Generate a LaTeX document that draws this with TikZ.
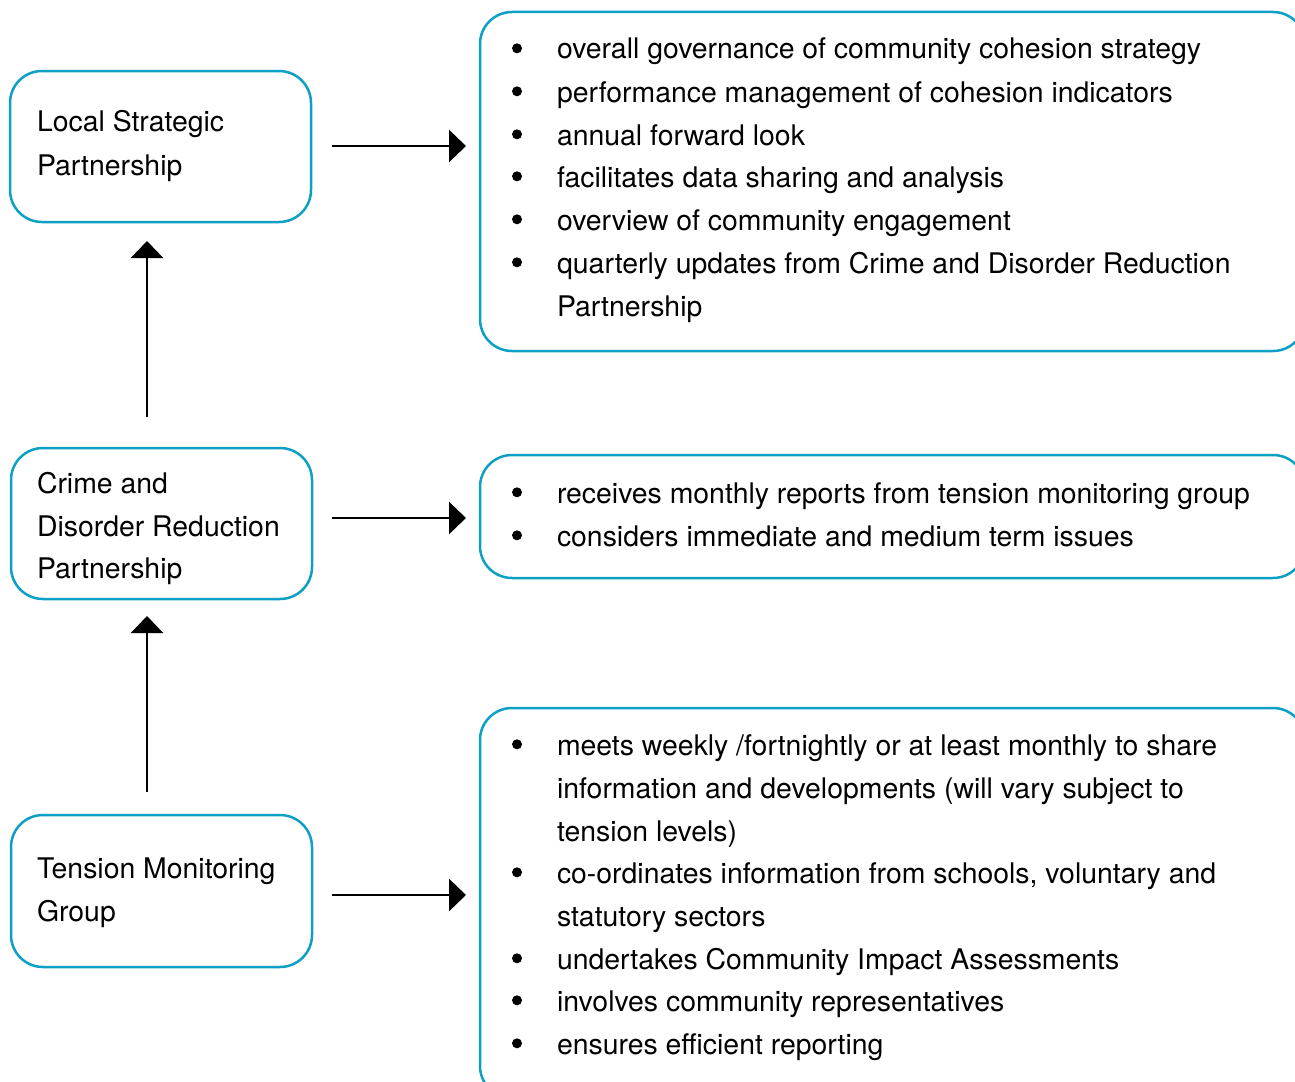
\documentclass[tikz,border=0pt]{standalone}
\usepackage{fontspec}
\setmainfont{TeX Gyre Heros}
\usetikzlibrary{arrows.meta}
\definecolor{boxc}{RGB}{14,160,196}
\begin{document}
\begin{tikzpicture}[x=1pt,y=-1pt,
  every node/.style={inner sep=0pt, outer sep=0pt, font=\fontsize{28.4}{43}\selectfont},
  bx/.style={draw=boxc, line width=2.5pt, rounded corners=32pt, anchor=north west},
  arr/.style={line width=2.8pt, -{Triangle[length=17pt,width=32pt]}},
  txt/.style={anchor=base west},
  bul/.style={circle, fill=black, minimum size=10pt}]
\clip (0,0) rectangle (1295,1081);
\fill[white] (0,0) rectangle (1295,1081);
% left boxes
\node[bx, minimum width=301pt, minimum height=151pt] (lsp) at (10,71) {};
\node[bx, minimum width=301pt, minimum height=151pt] (cdrp) at (11,448) {};
\node[bx, minimum width=301pt, minimum height=152pt] (tmg) at (11,815) {};
\node[txt] (lsp1) at (37,131.5) {Local Strategic};
\node[txt] (lsp2) at (37,175) {Partnership};
\node[txt] (cdrp1) at (37,493) {Crime and};
\node[txt] (cdrp2) at (37,536) {Disorder Reduction};
\node[txt] (cdrp3) at (37,578) {Partnership};
\node[txt] (tmg1) at (37,878) {Tension Monitoring};
\node[txt] (tmg2) at (37,921) {Group};
% right boxes
\node[bx, minimum width=825pt, minimum height=339pt] (r1) at (480,12) {};
\node[bx, minimum width=825pt, minimum height=123pt] (r2) at (480,455) {};
\node[bx, minimum width=825pt, minimum height=390pt] (r3) at (480,708) {};
% box 1 text
\foreach \y/\t [count=\i] in {
  59/{overall governance of community cohesion strategy},
  102/{performance management of cohesion indicators},
  145/{annual forward look},
  187/{facilitates data sharing and analysis},
  230/{overview of community engagement},
  273/{quarterly updates from Crime and Disorder Reduction},
  316/{Partnership}}
  \node[txt] (ra\i) at (557,\y) {\t};
\foreach \y [count=\i] in {59,102,145,187,230,273}
  \node[bul] (ba\i) at (517,\y-10.7) {};
% box 2 text
\foreach \y/\t [count=\i] in {
  503/{receives monthly reports from tension monitoring group},
  546/{considers immediate and medium term issues}}
  \node[txt] (rb\i) at (557,\y) {\t};
\foreach \y [count=\i] in {503,546}
  \node[bul] (bb\i) at (517,\y-10.7) {};
% box 3 text
\foreach \y/\t [count=\i] in {
  755/{meets weekly /fortnightly or at least monthly to share},
  798/{information and developments (will vary subject to},
  841/{tension levels)},
  883/{co-ordinates information from schools, voluntary and},
  926/{statutory sectors},
  969/{undertakes Community Impact Assessments},
  1011/{involves community representatives},
  1054/{ensures efficient reporting}}
  \node[txt] (rc\i) at (557,\y) {\t};
\foreach \y [count=\i] in {755,883,969,1011,1054}
  \node[bul] (bc\i) at (517,\y-10.7) {};
% arrows
\coordinate (a1s) at (332,146);
\coordinate (a1e) at (466,146);
\coordinate (a2s) at (332,518);
\coordinate (a2e) at (466,518);
\coordinate (a3s) at (332,895);
\coordinate (a3e) at (466,895);
\draw[arr] (a1s) -- (a1e);
\draw[arr] (a2s) -- (a2e);
\draw[arr] (a3s) -- (a3e);
\coordinate (v1s) at (147,417);
\coordinate (v1e) at (147,241);
\coordinate (v2s) at (147,792);
\coordinate (v2e) at (147,616);
\draw[arr] (v1s) -- (v1e);
\draw[arr] (v2s) -- (v2e);
\end{tikzpicture}
\end{document}
